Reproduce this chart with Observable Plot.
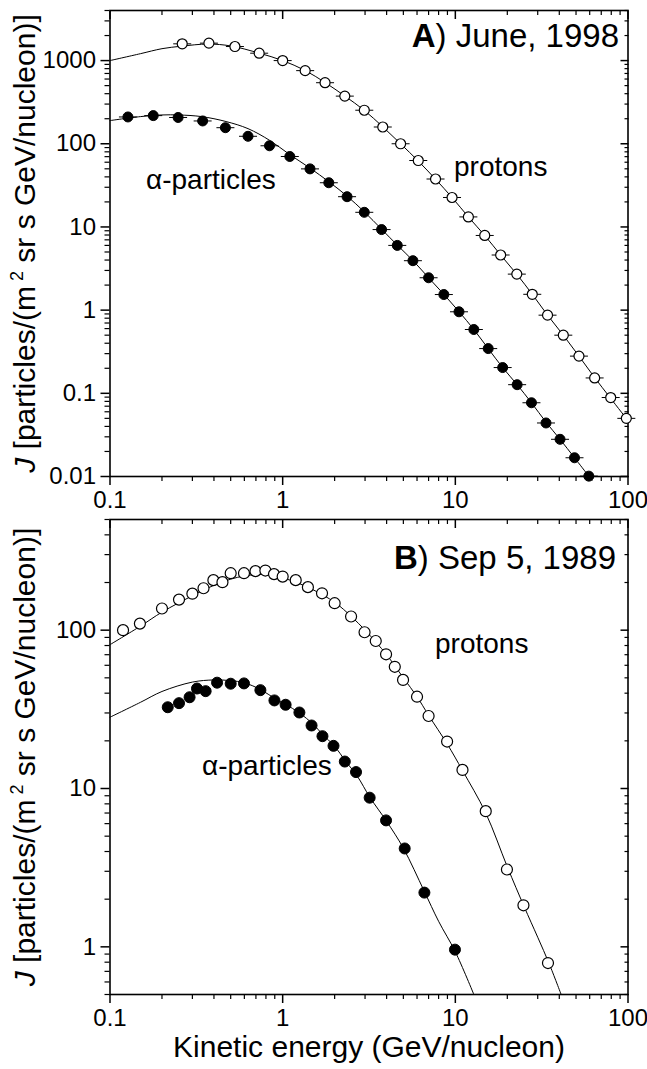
<!DOCTYPE html>
<html><head><meta charset="utf-8">
<script src="https://cdn.jsdelivr.net/npm/d3@7"></script>
<script src="https://cdn.jsdelivr.net/npm/@observablehq/plot@0.6"></script>
<style>
body{margin:0;background:#fff}
#chart{width:647px;font-family:"Liberation Sans",Arial,sans-serif}
#chart svg{display:block;overflow:visible}
</style>
</head><body><div id="chart"></div>
<script>
// ---------- Panel A: June 1998 ----------
const aProtonE = [0.262,0.374,0.529,0.731,1.00,1.35,1.76,2.29,2.97,3.80,4.82,6.10,7.68,9.57,11.9,14.8,18.3,22.7,27.9,34.2,42.2,52.0,64.1,79.4,97.8];
const aProtonJ = [1590,1620,1476,1227,1000,757,542,374,253,159,100,62.9,37.7,22.6,13.2,7.9,4.6,2.71,1.55,0.87,0.50,0.28,0.153,0.089,0.050];
const aAlphaE = [0.127,0.178,0.248,0.344,0.466,0.630,0.839,1.10,1.44,1.85,2.36,2.97,3.74,4.61,5.68,7.0,8.58,10.5,12.8,15.5,18.8,22.8,27.6,33.5,40.4,49.0,59.3];
const aAlphaJ = [210,218,207,188,156,123,94.6,70.3,49.9,34.0,23.1,15.0,9.3,6.0,3.93,2.45,1.54,0.955,0.585,0.345,0.204,0.127,0.077,0.044,0.028,0.0168,0.0101];
const aProtonFitE = [0.1,0.15,0.2,0.26,0.37,0.5,0.73,1,1.35,1.76,2.29,2.97,3.8,4.82,6.1,7.68,9.57,11.9,14.8,18.3,22.7,27.9,34.2,42.2,52,64,79,100];
const aProtonFitJ = [1000,1210,1390,1490,1580,1500,1230,1000,760,545,375,252,160,100,62,37.5,22.6,13.2,7.9,4.6,2.7,1.55,0.87,0.5,0.28,0.155,0.088,0.047];
const aAlphaFitE = [0.1,0.15,0.2,0.25,0.34,0.47,0.63,0.84,1.1,1.44,1.85,2.36,2.97,3.74,4.61,5.68,7.0,8.58,10.5,12.8,15.5,18.8,22.8,27.6,33.5,40.4,49,59.3,62];
const aAlphaFitJ = [190,212,222,222,212,185,152,110,74,51,35,23.5,15.2,9.4,6.05,3.95,2.45,1.55,0.96,0.585,0.345,0.204,0.127,0.077,0.045,0.028,0.0168,0.0101,0.009];

// ---------- Panel B: Sep 5, 1989 ----------
const bProtonE = [0.119,0.149,0.200,0.251,0.300,0.348,0.397,0.448,0.500,0.597,0.696,0.794,0.891,1.00,1.19,1.40,1.69,2.00,2.49,2.98,3.46,3.97,4.46,4.98,6.00,7.00,8.96,11.0,15.0,19.9,24.8,34.4];
const bProtonJ = [100,110,137,156,170,184,207,201,229,229,236,238,226,218,207,187,171,148,122,97,85.4,70.4,58.7,48.5,38.0,28.7,19.8,13.1,7.19,3.08,1.83,0.79];
const bAlphaE = [0.216,0.251,0.289,0.319,0.358,0.417,0.500,0.597,0.743,0.896,1.04,1.25,1.47,1.70,1.97,2.29,2.66,3.19,3.97,5.09,6.62,9.95];
const bAlphaJ = [32.6,34.6,37.7,42.8,41.2,46.6,45.9,46.1,41.8,36.0,33.8,30.2,25.0,21.4,18.6,14.8,12.7,8.75,6.29,4.18,2.20,0.96];
const bProtonFitE = [0.1,0.15,0.2,0.3,0.4,0.5,0.6,0.7,0.8,1,1.2,1.5,2,2.5,3,3.5,4,5,6,7,9,11,15,20,25,30,35,41];
const bProtonFitJ = [81,106,130,165,192,210,220,224,224,214,200,180,150,122,100,83,70,50,38,29,19,13,7.0,3.2,1.8,1.15,0.78,0.5];
const bAlphaFitE = [0.1,0.15,0.2,0.3,0.4,0.5,0.6,0.75,0.9,1.04,1.25,1.5,1.7,2,2.3,2.7,3.2,4,5,6.6,8,10,12.8];
const bAlphaFitJ = [28.2,35,41,47,48.5,48,46.5,42,37,34,30,25.5,22,18.5,15,12,8.8,6.2,4.2,2.25,1.45,0.93,0.5];

// ---------- axes / labels ----------
const xMajor = [0.1, 1, 10, 100];
const aYMajor = [0.01, 0.1, 1, 10, 100, 1000];
const bYMajor = [1, 10, 100];
const xLabel = "Kinetic energy (GeV/nucleon)";
const yLabel = "J [particles/(m2 sr s GeV/nucleon)]";
const aTitle = ["A", ") June, 1998"];
const bTitle = ["B", ") Sep 5, 1989"];
const protonText = "protons";
const alphaText = "\u03b1-particles";

const zip = (E, J) => E.map((e, i) => ({E: e, J: J[i]}));
function minorTicks(lo, hi) {
  const out = [];
  for (let p = Math.floor(Math.log10(lo)); p <= Math.ceil(Math.log10(hi)); p++)
    for (let m = 2; m <= 9; m++) { const v = +(m * 10 ** p).toPrecision(3); if (v >= lo && v <= hi) out.push(v); }
  return out;
}
const hbar = {draw(ctx) { ctx.moveTo(-9, 0); ctx.lineTo(9, 0); }};
const FONT = '"Liberation Sans", Arial, Helvetica, sans-serif';

function panel(o) {
  const xMinor = minorTicks(0.1, 100);
  const yMinor = minorTicks(o.yDomain[0], o.yDomain[1]);
  const marks = [
    Plot.frame({stroke: "black", strokeWidth: 1.6}),
    // left/bottom outward ticks
    Plot.axisX({anchor: "bottom", ticks: xMajor, tickSize: 9, tickPadding: 5, tickFormat: d => String(d), fontSize: 24, label: null, strokeWidth: 1.5}),
    Plot.axisX({anchor: "bottom", ticks: xMinor, tickSize: 5, fill: "none", label: null, tickFormat: () => "", strokeWidth: 1.2}),
    Plot.axisY({anchor: "left", ticks: o.yMajor, tickSize: 9, tickPadding: 5, tickFormat: d => String(d), fontSize: 24, label: null, strokeWidth: 1.5}),
    Plot.axisY({anchor: "left", ticks: yMinor, tickSize: 5, fill: "none", label: null, tickFormat: () => "", strokeWidth: 1.2}),
    // top/right inward ticks
    Plot.axisX({anchor: "top", ticks: xMajor, tickSize: -8, fill: "none", label: null, tickFormat: () => "", strokeWidth: 1.5}),
    Plot.axisX({anchor: "top", ticks: xMinor, tickSize: -4, fill: "none", label: null, tickFormat: () => "", strokeWidth: 1.2}),
    Plot.axisY({anchor: "right", ticks: o.yMajor, tickSize: -8, fill: "none", label: null, tickFormat: () => "", strokeWidth: 1.5}),
    Plot.axisY({anchor: "right", ticks: yMinor, tickSize: -4, fill: "none", label: null, tickFormat: () => "", strokeWidth: 1.2}),
    // fits
    Plot.line(o.pFit, {x: "E", y: "J", stroke: "black", strokeWidth: 1, curve: "catmull-rom"}),
    Plot.line(o.aFit, {x: "E", y: "J", stroke: "black", strokeWidth: 1, curve: "catmull-rom"}),
  ];
  if (o.bars) {
    marks.push(Plot.dot(o.p, {x: "E", y: "J", symbol: hbar, fill: "none", stroke: "black", strokeWidth: 1}));
    marks.push(Plot.dot(o.a, {x: "E", y: "J", symbol: hbar, fill: "none", stroke: "black", strokeWidth: 1}));
  }
  marks.push(
    Plot.dot(o.p, {x: "E", y: "J", r: o.r, fill: "white", stroke: "black", strokeWidth: 1.2}),
    Plot.dot(o.a, {x: "E", y: "J", r: o.r, fill: "black", stroke: "black", strokeWidth: 1}),
    Plot.text([o.title.join("")], {frameAnchor: "top-right", dx: o.titleDx, dy: o.titleDy, textAnchor: "end", lineAnchor: "bottom", fontSize: 33, fill: "black"}),
    Plot.text([protonText], {frameAnchor: "top-left", dx: o.pDx, dy: o.pDy, textAnchor: "start", lineAnchor: "bottom", fontSize: 28, fill: "black"}),
    Plot.text([alphaText], {frameAnchor: "top-left", dx: o.aDx, dy: o.aDy, textAnchor: "start", lineAnchor: "bottom", fontSize: 28, fill: "black"}),
    Plot.text([yLabel], {frameAnchor: "left", dx: -85, rotate: -90, textAnchor: "middle", lineAnchor: "middle", fontSize: 30, fill: "black"})
  );
  if (o.xLabel) marks.push(Plot.text([xLabel], {frameAnchor: "bottom", dy: 62, textAnchor: "middle", lineAnchor: "bottom", fontSize: 30, fill: "black"}));
  const svg = Plot.plot({
    width: 647, height: o.height,
    marginLeft: 109.5, marginRight: 19.5, marginTop: o.marginTop, marginBottom: o.marginBottom,
    x: {type: "log", domain: [0.1, 100]},
    y: {type: "log", domain: o.yDomain},
    style: {fontFamily: FONT, fontSize: "24px", color: "black", background: "white", overflow: "visible"},
    marks
  });
  // rich text: bold panel letter, italic J, superscript 2
  d3.select(svg).selectAll("text").each(function() {
    const t = d3.select(this);
    const s = this.textContent;
    if (s === o.title.join("")) {
      t.text(null);
      t.append("tspan").attr("font-weight", "bold").text(o.title[0]);
      t.append("tspan").text(o.title[1]);
    } else if (s === yLabel) {
      t.text(null);
      t.append("tspan").attr("font-style", "italic").text("J");
      t.append("tspan").text(" [particles/(m");
      t.append("tspan").attr("font-size", 18).attr("dy", -12).text(" 2");
      t.append("tspan").attr("dy", 12).text(" sr s GeV/nucleon)]");
    }
  });
  return svg;
}

const root = document.getElementById("chart");
root.appendChild(panel({
  height: 510, marginTop: 10, marginBottom: 34,
  yDomain: [0.01, 4000], yMajor: aYMajor,
  p: zip(aProtonE, aProtonJ), a: zip(aAlphaE, aAlphaJ),
  pFit: zip(aProtonFitE, aProtonFitJ), aFit: zip(aAlphaFitE, aAlphaFitJ),
  bars: true, r: 5,
  title: aTitle, titleDx: -9, titleDy: 36,
  pDx: 344, pDy: 165, aDx: 36, aDy: 178
}));
root.appendChild(panel({
  height: 559, marginTop: 9, marginBottom: 75,
  yDomain: [0.5, 500], yMajor: bYMajor,
  p: zip(bProtonE, bProtonJ), a: zip(bAlphaE, bAlphaJ),
  pFit: zip(bProtonFitE, bProtonFitJ), aFit: zip(bAlphaFitE, bAlphaFitJ),
  bars: false, r: 5.5,
  title: bTitle, titleDx: -12, titleDy: 49,
  pDx: 325, pDy: 133, aDx: 92, aDy: 255,
  xLabel: true
}));
</script>
</body></html>
